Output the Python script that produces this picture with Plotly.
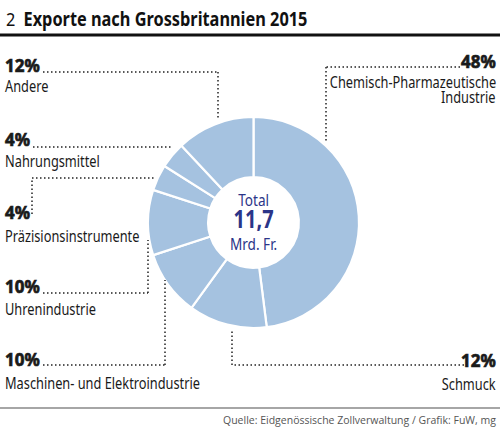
import json
import plotly.graph_objects as go

# ---- data ----
categories = ["Chemisch-Pharmazeutische Industrie", "Schmuck", "Maschinen- und Elektroindustrie",
              "Uhrenindustrie", "Präzisionsinstrumente", "Nahrungsmittel", "Andere"]
shares = [48, 12, 10, 10, 4, 4, 12]
pct_labels = ["48%", "12%", "10%", "10%", "4%", "4%", "12%"]
total_value = "11,7"

W, H = 500, 428
COND = "Noto Sans, Roboto, sans-serif"
BLUE = "#a5c2e0"
DARK = "#2b3588"

def px(x):
    return x / W

def py(y):
    return 1 - y / H

fig = go.Figure()
fig.add_trace(go.Pie(
    labels=categories, values=shares, sort=False, direction="clockwise", rotation=0,
    hole=0.43, marker=dict(colors=[BLUE] * len(shares), line=dict(color="white", width=2.2)),
    textinfo="none", hoverinfo="label+percent", showlegend=False,
    domain=dict(x=[px(147), px(360)], y=[py(328), py(117)]),
))

ann = []
squeeze = []   # horizontal condensing per annotation (installed fonts are not condensed)
heavy = []     # extra stroke to mimic a black weight
def text(x, y, s, size, anchor="left", bold=False, color="#1a1a1a", family=COND, sx=0.8, hv=0):
    ann.append(dict(x=px(x), y=py(y), xref="paper", yref="paper", text=("<b>%s</b>" % s) if bold else s,
                    showarrow=False, xanchor=anchor, yanchor="middle", align=anchor,
                    font=dict(family=family, size=size, color=color)))
    squeeze.append(sx)
    heavy.append(hv)

# title
text(4, 19, "2\u2002<b>Exporte nach Grossbritannien 2015</b>", 19, color="#111", sx=0.86)

# callout positions (layout): (x, y_pct, y_name, anchor)
callouts = {
    "Andere": (3, 65, [86], "left"),
    "Nahrungsmittel": (3, 139, [161], "left"),
    "Präzisionsinstrumente": (3, 212, [235], "left"),
    "Uhrenindustrie": (3, 286, [308], "left"),
    "Maschinen- und Elektroindustrie": (3, 359, [382], "left"),
    "Chemisch-Pharmazeutische Industrie": (498, 61, [82, 97], "right"),
    "Schmuck": (498, 360, [383], "right"),
}
name_lines = {"Chemisch-Pharmazeutische Industrie": ["Chemisch-Pharmazeutische", "Industrie"]}
for cat, pct in zip(categories, pct_labels):
    x, yp, yn, anc = callouts[cat]
    text(x, yp, pct, 17.5, anchor=anc, bold=True, color="#1a1a1a", sx=0.97, hv=0.7)
    for line, yy in zip(name_lines.get(cat, [cat]), yn):
        text(x, yy, line, 17, anchor=anc, color="#1a1a1a", sx=0.753)

# center text (one block, three lines)
text(253.5, 221.5, "Total<br><b><span style='font-size:25px'>%s</span></b><br>Mrd. Fr." % total_value,
     17, anchor="center", color=DARK, sx=0.8)

# footer
text(498, 420, "Quelle: Eidgenössische Zollverwaltung / Grafik: FuW, mg", 10.5, anchor="right",
     color="#555", family="Open Sans, DejaVu Sans, sans-serif", sx=1.0)

shapes = []
def line(x0, y0, x1, y1, color="#222", width=1.5, dash="1.5px,2.5px"):
    shapes.append(dict(type="line", xref="paper", yref="paper", x0=px(x0), y0=py(y0), x1=px(x1), y1=py(y1),
                       line=dict(color=color, width=width, dash=dash)))

# rules
line(0, 35, 500, 35, color="#111", width=3, dash="solid")
line(0, 408, 500, 408, color="#888", width=1.5, dash="solid")

# leader lines (dotted)
leaders = [
    [(43, 72), (218, 72), (218, 120)],
    [(460, 67), (326, 67), (326, 141)],
    [(33, 147), (173, 147)],
    [(32, 214), (32, 178), (154, 178)],
    [(43, 293), (148, 293), (148, 240)],
    [(43, 365), (165, 365), (165, 280)],
    [(464, 365), (232, 365), (232, 329)],
]
for pts in leaders:
    for (a, b), (c, d) in zip(pts[:-1], pts[1:]):
        line(a, b, c, d)

fig.update_layout(width=W, height=H, margin=dict(l=0, r=0, t=0, b=0),
                  paper_bgcolor="white", plot_bgcolor="white",
                  annotations=ann, shapes=shapes)

post = """
document.body.style.margin = '0';
var SQ = %s, HV = %s;
document.querySelectorAll('g.annotation').forEach(function (g) {
  var i = parseInt(g.getAttribute('data-index'));
  var t = g.querySelector('text.annotation-text');
  if (!t) return;
  if (HV[i]) { t.style.stroke = t.style.fill || '#1a1a1a'; t.style.strokeWidth = HV[i] + 'px'; }
  var s = SQ[i];
  if (!s || s === 1) return;
  var x = parseFloat(t.getAttribute('x')) || 0;
  t.setAttribute('transform', 'translate(' + x + ',0) scale(' + s + ',1) translate(' + (-x) + ',0)');
});
""" % (json.dumps(squeeze), json.dumps(heavy))
fig.write_html("out.html", post_script=post, config={"displayModeBar": False})
